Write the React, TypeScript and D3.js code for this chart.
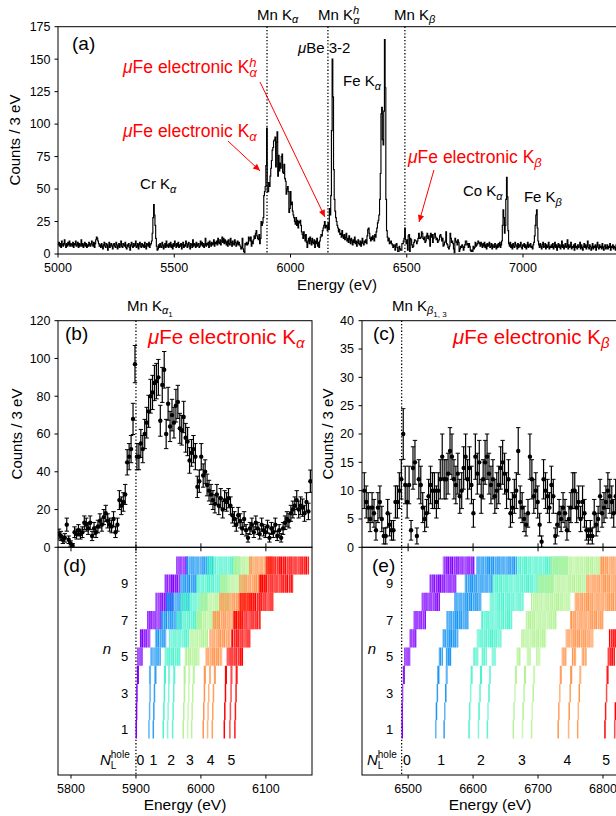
import React from "react";
import * as d3 from "d3";

const FONT = "'Liberation Sans', Arial, Helvetica, sans-serif";
const RED = "#ff0000";

// ---------- spectrum: counts per 3 eV bin, each segment starts at its own energy ----------
const lowStart = 5000;
const lowCounts = [
  7, 9, 6, 8, 5, 10, 7, 6, 8, 11, 7, 5, 8, 6, 9, 7, 10, 6, 8, 7,
  6, 9, 5, 8, 7, 10, 6, 7, 9, 5, 8, 6, 7, 11, 6, 8, 5, 7, 9, 6,
  8, 5, 7, 6, 9, 7, 6, 8, 10, 7, 6, 9, 5, 8, 11, 13, 12, 10, 8, 6,
  7, 5, 8, 6, 4, 7, 9, 6, 5, 8, 7, 3, 6, 9, 5, 7, 8, 6, 4, 7,
  8, 6, 5, 9, 7, 4, 6, 8, 5, 7, 10, 6, 5, 8, 7, 6, 9, 5, 4, 7,
  6, 8, 5, 3, 7, 9, 6, 5, 8, 6, 7, 10, 5, 6, 8, 4, 7, 9, 6, 5,
  8, 6, 7, 5, 9, 6, 4, 8, 7, 6, 9, 5, 7, 8, 10, 16, 28, 38, 30, 22,
  12, 6, 3, 4, 7, 5, 8, 6, 5, 9, 7, 4, 6, 8, 5, 10, 6, 7, 5, 8,
  6, 9, 5, 7, 4, 8, 6, 10, 7, 5, 8, 6, 9, 5, 7, 6, 8, 4, 7, 9,
  5, 7, 6, 10, 8, 5, 7, 9, 6, 4, 8, 7, 5, 11, 6, 8, 7, 5, 9, 6,
  7, 8, 5, 6, 10, 7, 9, 6, 8, 5, 7, 12, 6, 8, 7, 9, 5, 10, 8, 6,
  9, 7, 8, 11, 6, 9, 8, 10, 7, 12, 9, 8, 11, 7, 10, 13, 9, 12, 8, 11,
  9, 7, 10, 6, 11, 8, 7, 12, 9, 6, 10, 8, 7, 11, 9, 6, 8, 10, 7, 9,
];
// muFe electronic K-alpha region, panel (b)
const kaStart = 5780;
const kaCounts = [
  7, 6, 4, 5, 12, 4, 2, 1, 8, 7, 9, 7, 8, 13, 12, 10, 13, 6, 10, 8,
  11, 14, 12, 16, 18, 14, 12, 11, 15, 8, 12, 25, 22, 24, 28, 45, 48, 52, 68, 97,
  48, 48, 55, 52, 60, 66, 72, 80, 82, 87, 88, 90, 67, 86, 94, 60, 76, 64, 70, 66,
  75, 77, 63, 62, 69, 58, 56, 46, 50, 52, 48, 32, 35, 48, 38, 40, 33, 30, 28, 25,
  23, 28, 22, 26, 20, 25, 24, 26, 22, 17, 15, 12, 17, 14, 10, 15, 9, 5, 10, 12,
  8, 13, 10, 7, 12, 9, 8, 11, 5, 10, 8, 12, 6, 9, 5, 10, 13, 15, 14, 18,
  20, 22, 25, 20, 22, 21, 18, 24, 19, 35,
];
// muBe 3-2 and Fe K-alpha
const midStart = 6170;
const midCounts = [
  30, 45, 95, 150, 121, 65, 42, 33, 28, 25, 22, 20, 17, 19, 15, 16, 13, 18, 14, 12,
  15, 11, 13, 16, 10, 12, 9, 14, 11, 8, 12, 10, 7, 11, 9, 13, 8, 10, 6, 9,
  11, 8, 7, 10, 6, 9, 12, 8, 7, 10, 9, 11, 8, 14, 19, 20, 16, 12, 10, 13,
  11, 14, 12, 10, 15, 13, 17, 20, 24, 26, 30, 42, 62, 108, 113, 88, 84, 110, 165, 128,
  42, 18, 13, 10, 12, 8, 9,
];
// muFe electronic K-beta region, panel (c)
const kbStart = 6431;
const kbCounts = [
  10, 8, 7, 5, 7, 6, 3, 7, 8, 5, 2, 2, 6, 4, 3, 3, 8, 8, 10, 12, 20,
  11, 8, 11, 3, 14, 15, 2, 12, 11, 7, 5, 6, 9, 11, 10, 10, 8, 10, 12, 16,
  12, 12, 13, 17, 16, 12, 11, 13, 9, 10, 14, 16, 12, 14, 11, 6, 16, 13, 15, 9,
  12, 15, 16, 13, 11, 12, 9, 10, 11, 14, 15, 13, 10, 12, 6, 7, 9, 10, 17, 8,
  7, 5, 4, 6, 16, 12, 9, 10, 8, 4, 1, 12, 10, 9, 7, 11, 9, 2, 4, 6,
  5, 7, 6, 3, 5, 7, 10, 10, 7, 8, 5, 8, 6, 3, 2, 3, 2, 6, 4, 5,
  9, 6, 7, 8, 10, 9, 8, 6, 9,
];
// Co K-alpha, Fe K-beta and the tail
const highStart = 6821;
const highCounts = [
  7, 5, 8, 6, 9, 5, 7, 4, 8, 6, 7, 9, 5, 6, 8, 4, 7, 6, 5, 8,
  6, 4, 7, 5, 8, 6, 9, 5, 7, 10, 22, 34, 28, 16, 22, 42, 59, 44, 18, 8,
  6, 9, 5, 7, 4, 8, 6, 5, 9, 7, 6, 4, 8, 5, 7, 6, 9, 5, 4, 7,
  6, 8, 5, 7, 4, 6, 9, 5, 7, 6, 8, 5, 6, 4, 7, 9, 14, 22, 30, 34,
  20, 10, 7, 5, 8, 6, 4, 7, 9, 5, 6, 8, 4, 7, 5, 6, 9, 4, 6, 5,
  7, 5, 8, 4, 6, 9, 5, 7, 3, 6, 8, 5, 7, 4, 6, 10, 5, 7, 4, 6,
  8, 5, 6, 11, 4, 7, 5, 6, 9, 4, 6, 5, 7, 3, 8, 5, 6, 4, 7, 5,
  6, 9, 4, 7, 5, 3, 6, 8, 5, 7, 4, 6, 10, 5, 4, 7, 6, 3, 5, 8,
  4, 6, 5, 7, 3, 6, 9, 5, 4, 7, 5, 6, 4, 8, 5, 3, 6, 7, 4, 5,
  7, 4, 6, 5, 8, 3, 6, 5, 7, 4, 6, 5, 3, 7, 5, 6, 4, 8, 5, 6,
];

// reference lines (eV)
const mnKa = 5899;
const mnKah = 6161;
const mnKb = 6492;
const mnKa1 = 5900;
const mnKb13 = 6490;

// ticks
const aXTicks = [5000, 5500, 6000, 6500, 7000];
const aYTicks = [0, 25, 50, 75, 100, 125, 150, 175];
const bYTicks = [0, 20, 40, 60, 80, 100, 120];
const cYTicks = [0, 5, 10, 15, 20, 25, 30, 35, 40];
const dXTicks = [5800, 5900, 6000, 6100];
const eXTicks = [6500, 6600, 6700, 6800];
const nTicks = [1, 3, 5, 7, 9];
const holeNums = [0, 1, 2, 3, 4, 5];
const dHoleE = [5907, 5927, 5954, 5983, 6015, 6047];
const eHoleE = [6498, 6551, 6612, 6675, 6745, 6805];

// transition energies: [n, N_L hole, eV] single lines for low n
const kaLines: [number, number, number][] = [
  [1, 0, 5900.5], [1, 1, 5920], [1, 1, 5926.7], [1, 2, 5942], [1, 2, 5948.7], [1, 2, 5956.4],
  [1, 3, 5972.8], [1, 3, 5979.5], [1, 3, 5985.7], [1, 4, 6003.6], [1, 4, 6010.3], [1, 4, 6017.5],
  [1, 5, 6036], [1, 5, 6044.6], [1, 5, 6052.3],
  [2, 0, 5901], [2, 1, 5921], [2, 1, 5927.5], [2, 2, 5943], [2, 2, 5949.5], [2, 2, 5957.2],
  [2, 3, 5973.6], [2, 3, 5980.3], [2, 3, 5986.5], [2, 4, 6004.4], [2, 4, 6011.1], [2, 4, 6018.3],
  [2, 5, 6036.8], [2, 5, 6045.4], [2, 5, 6053.1],
  [3, 0, 5901.5], [3, 1, 5921.8], [3, 1, 5928.5], [3, 2, 5943.8], [3, 2, 5950.5], [3, 2, 5958.2],
  [3, 3, 5974.6], [3, 3, 5981.3], [3, 3, 5987.5], [3, 4, 6005.4], [3, 4, 6012.1], [3, 4, 6019.3],
  [3, 5, 6037.8], [3, 5, 6046.4], [3, 5, 6054.1],
  [4, 0, 5903], [4, 1, 5921.6], [4, 1, 5930], [4, 2, 5944.6], [4, 2, 5951], [4, 2, 5959],
  [4, 3, 5975], [4, 3, 5982], [4, 3, 5989], [4, 4, 6006], [4, 4, 6014], [4, 4, 6021.5],
  [4, 5, 6038.5], [4, 5, 6047], [4, 5, 6055],
];
// dense bands for high n: [n, N_L hole, eV from, eV to]
const kaBands: [number, number, number, number][] = [
  [5, 0, 5903, 5910], [5, 1, 5923, 5938], [5, 2, 5945, 5968], [5, 3, 5976, 5998], [5, 4, 6008, 6032], [5, 5, 6040, 6065],
  [6, 0, 5907, 5922], [6, 1, 5930, 5947], [6, 2, 5952, 5982], [6, 3, 5983, 6011], [6, 4, 6014, 6045], [6, 5, 6047, 6076],
  [7, 0, 5918, 5939], [7, 1, 5939, 5970], [7, 2, 5963, 6001], [7, 3, 5993, 6027], [7, 4, 6019, 6065], [7, 5, 6050, 6092],
  [8, 0, 5931, 5957], [8, 1, 5947, 5983], [8, 2, 5970, 6011], [8, 3, 5998, 6045], [8, 4, 6029, 6081], [8, 5, 6060, 6112],
  [9, 0, 5945, 5968], [9, 1, 5968, 5994], [9, 2, 5994, 6040], [9, 3, 6030, 6070], [9, 4, 6060, 6101], [9, 5, 6090, 6142],
  [10, 0, 5963, 5980], [10, 1, 5978, 6018], [10, 2, 6010, 6060], [10, 3, 6050, 6080], [10, 4, 6075, 6111], [10, 5, 6100, 6166],
];
const kbLines: [number, number, number][] = [
  [1, 0, 6491], [1, 1, 6542.6], [1, 1, 6555.4], [1, 2, 6593.8], [1, 2, 6608.2], [1, 2, 6622],
  [1, 3, 6662], [1, 3, 6676], [1, 3, 6690], [1, 4, 6731], [1, 4, 6747], [1, 4, 6761], [1, 5, 6803], [1, 5, 6818],
  [2, 0, 6491], [2, 1, 6543.6], [2, 1, 6556.4], [2, 2, 6594.8], [2, 2, 6609.2], [2, 2, 6623],
  [2, 3, 6663], [2, 3, 6677], [2, 3, 6691], [2, 4, 6732], [2, 4, 6748], [2, 4, 6762], [2, 5, 6804], [2, 5, 6819],
  [3, 0, 6491.5], [3, 1, 6545], [3, 1, 6558], [3, 2, 6596.3], [3, 2, 6610.7], [3, 2, 6624.5],
  [3, 3, 6664.5], [3, 3, 6678.5], [3, 3, 6692.5], [3, 4, 6733.5], [3, 4, 6749.5], [3, 4, 6763.5], [3, 5, 6805.5],
  [4, 0, 6493.5], [4, 1, 6546.6], [4, 1, 6559.4], [4, 2, 6597.8], [4, 2, 6612.2], [4, 2, 6626],
  [4, 3, 6666], [4, 3, 6680], [4, 3, 6694], [4, 4, 6735], [4, 4, 6751], [4, 4, 6765], [4, 5, 6807],
];
const kbBands: [number, number, number, number][] = [
  [5, 0, 6495, 6503], [5, 1, 6548, 6554], [5, 1, 6559, 6566], [5, 2, 6601, 6608], [5, 2, 6614, 6621], [5, 2, 6629, 6634],
  [5, 3, 6668, 6674], [5, 3, 6683, 6689], [5, 3, 6698, 6703], [5, 4, 6737, 6744], [5, 4, 6753, 6759], [5, 4, 6768, 6775],
  [5, 5, 6808, 6818],
  [6, 0, 6503, 6514], [6, 1, 6554, 6577], [6, 2, 6606, 6644], [6, 3, 6675, 6713], [6, 4, 6743, 6785], [6, 5, 6810, 6830],
  [7, 0, 6509, 6528], [7, 1, 6560, 6593], [7, 2, 6613, 6660], [7, 3, 6682, 6729], [7, 4, 6750, 6801], [7, 5, 6822, 6840],
  [8, 0, 6521, 6549], [8, 1, 6572, 6613], [8, 2, 6626, 6678], [8, 3, 6690, 6750], [8, 4, 6757, 6830],
  [9, 0, 6534, 6575], [9, 1, 6588, 6631], [9, 2, 6631, 6723], [9, 3, 6700, 6775], [9, 4, 6775, 6830],
  [10, 0, 6554, 6603], [10, 1, 6606, 6668], [10, 2, 6668, 6745], [10, 3, 6720, 6796], [10, 4, 6796, 6830],
];

// ---------- scales ----------
const xA = d3.scaleLinear().domain([5000, 7400]).range([58, 616]);
const yA = d3.scaleLinear().domain([0, 175]).range([254, 26.7]);
const xB = d3.scaleLinear().domain([5780, 6171]).range([58, 312]);
const yB = d3.scaleLinear().domain([0, 120]).range([547.3, 320.7]);
const xC = d3.scaleLinear().domain([6429, 6820]).range([362, 616]);
const yC = d3.scaleLinear().domain([0, 40]).range([547.3, 320.7]);
const yD = d3.scaleLinear().domain([-1.5, 11]).range([775, 547.3]);

// matplotlib "rainbow" colormap
function rainbow(t: number) {
  const r = Math.min(1, Math.abs(2 * t - 0.5));
  const g = Math.sin(Math.PI * t);
  const b = Math.cos((Math.PI * t) / 2);
  return d3.rgb(r * 255, g * 255, b * 255).formatHex();
}

const segments: [number, number[]][] = [
  [lowStart, lowCounts],
  [kaStart, kaCounts],
  [midStart, midCounts],
  [kbStart, kbCounts],
  [highStart, highCounts],
];
const bins = segments.flatMap(([s, vals]) => vals.map((v, i) => ({ e: s + 3 * i, v })));

type Part = [string, { it?: boolean; fs?: number; dx?: number; dy?: number }?];
const T = ({ x, y, fs, parts, fill = "#000", anchor = "start" }: { x: number; y: number; fs: number; parts: Part[]; fill?: string; anchor?: string }) => (
  <text x={x} y={y} fontSize={fs} fill={fill} textAnchor={anchor}>
    {parts.map(([s, o = {}], i) => (
      <tspan key={i} fontStyle={o.it ? "italic" : undefined} fontSize={o.fs} dx={o.dx} dy={o.dy}>
        {s}
      </tspan>
    ))}
  </text>
);

const LINE_ALPHA = [1, 0.7, 0.9];
const STRIPE_ALPHA = [1, 0.5, 0.9, 0.7, 1, 0.4, 0.85, 0.6, 0.95, 0.75];

function levelMarks(lines: [number, number, number][], bands: [number, number, number, number][], x: d3.ScaleLinear<number, number>, key: string) {
  const out: React.ReactElement[] = [];
  lines.forEach(([n, N, e], i) => {
    out.push(
      <line key={`${key}l${i}`} x1={x(e)} x2={x(e)} y1={yD(n + 0.5)} y2={yD(n - 0.5)}
        stroke={rainbow(N / 5)} strokeWidth={n === 4 ? 2.1 : 1.5} strokeOpacity={LINE_ALPHA[i % 3]} />
    );
  });
  bands.forEach(([n, N, e0, e1], bi) => {
    const c = rainbow(N / 5);
    let k = 0;
    for (let e = e0; e <= e1 + 0.01; e += 1.6, k++) {
      out.push(
        <line key={`${key}b${bi}-${k}`} x1={x(e)} x2={x(e)} y1={yD(n + 0.5)} y2={yD(n - 0.5)}
          stroke={c} strokeWidth={1.15} strokeOpacity={STRIPE_ALPHA[(k + bi * 3) % STRIPE_ALPHA.length]} />
      );
    }
  });
  return out;
}

function errorPoints(start: number, vals: number[], x: d3.ScaleLinear<number, number>, y: d3.ScaleLinear<number, number>) {
  return vals.map((v, i) => {
    const cx = x(start + 3 * i + 1.5);
    const err = Math.sqrt(v);
    const y0 = y(v - err);
    const y1 = y(v + err);
    return (
      <g key={i}>
        <line x1={cx} x2={cx} y1={y0} y2={y1} stroke="#000" strokeWidth={1.2} />
        <line x1={cx - 2.2} x2={cx + 2.2} y1={y0} y2={y0} stroke="#000" strokeWidth={1} />
        <line x1={cx - 2.2} x2={cx + 2.2} y1={y1} y2={y1} stroke="#000" strokeWidth={1} />
        <circle cx={cx} cy={y(v)} r={2.2} fill="#000" />
      </g>
    );
  });
}

const dotted = { stroke: "#000", strokeWidth: 1.3, strokeDasharray: "1.3,2" };

export default function App() {
  const pts: [number, number][] = bins.map((b) => [b.e, b.v]);
  const last = bins[bins.length - 1];
  pts.push([last.e + 3, last.v]);
  const step = d3
    .line<[number, number]>()
    .x((d) => xA(d[0]))
    .y((d) => yA(d[1]))
    .curve(d3.curveStepAfter)(pts) as string;

  const tick = 3.5;
  const tl = 12.5;

  return (
    <div style={{ position: "absolute", left: 0, top: 0 }}>
      <svg width={616} height={816} fontFamily={FONT} style={{ display: "block", background: "#fff" }}>
        <defs>
          <clipPath id="clipA"><rect x={58} y={26.7} width={560} height={227.3} /></clipPath>
          <clipPath id="clipB"><rect x={58} y={320.7} width={254} height={226.6} /></clipPath>
          <clipPath id="clipC"><rect x={362} y={320.7} width={260} height={226.6} /></clipPath>
          <clipPath id="clipD"><rect x={58} y={547.3} width={254} height={227.7} /></clipPath>
          <clipPath id="clipE"><rect x={362} y={547.3} width={260} height={227.7} /></clipPath>
          <marker id="arr" viewBox="0 0 10 10" refX={10} refY={5} markerWidth={8} markerHeight={7}
            markerUnits="userSpaceOnUse" orient="auto">
            <path d="M0,0.5 L10,5 L0,9.5 z" fill={RED} />
          </marker>
        </defs>

        {/* ================= panel (a) ================= */}
        {[mnKa, mnKah, mnKb].map((e) => (
          <line key={e} x1={xA(e)} x2={xA(e)} y1={yA(175)} y2={yA(0)} {...dotted} />
        ))}
        <path d={step} fill="none" stroke="#000" strokeWidth={1.15} clipPath="url(#clipA)" />
        <rect x={58} y={26.7} width={580} height={227.3} fill="none" stroke="#000" strokeWidth={1} />
        {aXTicks.map((t) => (
          <g key={t}>
            <line x1={xA(t)} x2={xA(t)} y1={254} y2={254 + tick} stroke="#000" />
            <text x={xA(t)} y={272} fontSize={tl} textAnchor="middle">{t}</text>
          </g>
        ))}
        {aYTicks.map((t) => (
          <g key={t}>
            <line x1={58 - tick} x2={58} y1={yA(t)} y2={yA(t)} stroke="#000" />
            <text x={50.5} y={yA(t)} dy="0.35em" fontSize={tl} textAnchor="end">{t}</text>
          </g>
        ))}
        <text x={337} y={290} fontSize={15} textAnchor="middle">Energy (eV)</text>
        <text transform="translate(20,140) rotate(-90)" fontSize={15} textAnchor="middle">Counts / 3 eV</text>
        <text x={72} y={50} fontSize={19}>(a)</text>

        <T x={257} y={20} fs={15} parts={[["Mn K"], ["α", { it: true, fs: 11, dy: 3 }]]} />
        <T x={318} y={20} fs={15} parts={[["Mn K"], ["h", { it: true, fs: 11, dy: -6 }], ["α", { it: true, fs: 11, dx: -6, dy: 9.5 }]]} />
        <T x={394} y={20} fs={15} parts={[["Mn K"], ["β", { it: true, fs: 11, dy: 3 }]]} />

        <T x={xA(5353)} y={189} fs={15} parts={[["Cr K"], ["α", { it: true, fs: 11, dy: 3.5 }]]} />
        <T x={xA(6032)} y={53} fs={15} parts={[["μ", { it: true }], ["Be 3-2"]]} />
        <T x={xA(6226)} y={86} fs={15} parts={[["Fe K"], ["α", { it: true, fs: 11, dy: 3.5 }]]} />
        <T x={xA(6742)} y={196} fs={15} parts={[["Co K"], ["α", { it: true, fs: 11, dy: 3.5 }]]} />
        <T x={xA(7004)} y={202} fs={15} parts={[["Fe K"], ["β", { it: true, fs: 11, dy: 3.5 }]]} />

        <T x={123} y={73} fs={17.5} fill={RED}
          parts={[["μ", { it: true }], ["Fe electronic K"], ["h", { it: true, fs: 13, dy: -6.5 }], ["α", { it: true, fs: 13, dx: -7, dy: 10.5 }]]} />
        <T x={123} y={137} fs={17.5} fill={RED}
          parts={[["μ", { it: true }], ["Fe electronic K"], ["α", { it: true, fs: 13, dy: 3.5 }]]} />
        <T x={408} y={163} fs={17.5} fill={RED}
          parts={[["μ", { it: true }], ["Fe electronic K"], ["β", { it: true, fs: 13, dy: 3.5 }]]} />

        <line x1={xA(5731)} y1={yA(87)} x2={xA(5869)} y2={yA(64)} stroke={RED} strokeWidth={1} markerEnd="url(#arr)" />
        <line x1={xA(5869)} y1={yA(132.4)} x2={xA(6148)} y2={yA(28.5)} stroke={RED} strokeWidth={1} markerEnd="url(#arr)" />
        <line x1={xA(6617)} y1={yA(64.7)} x2={xA(6553)} y2={yA(24.6)} stroke={RED} strokeWidth={1} markerEnd="url(#arr)" />

        {/* ================= panel (b) + (d) ================= */}
        <line x1={xB(mnKa1)} x2={xB(mnKa1)} y1={320.7} y2={775} {...dotted} />
        <g clipPath="url(#clipB)">{errorPoints(kaStart, kaCounts, xB, yB)}</g>
        <g clipPath="url(#clipD)">{levelMarks(kaLines, kaBands, xB, "d")}</g>
        <rect x={58} y={320.7} width={254} height={226.6} fill="none" stroke="#000" strokeWidth={1} />
        <rect x={58} y={547.3} width={254} height={227.7} fill="none" stroke="#000" strokeWidth={1} />
        {bYTicks.map((t) => (
          <g key={t}>
            <line x1={58 - tick} x2={58} y1={yB(t)} y2={yB(t)} stroke="#000" />
            <text x={50.5} y={yB(t)} dy="0.35em" fontSize={tl} textAnchor="end">{t}</text>
          </g>
        ))}
        {dXTicks.map((t) => (
          <g key={t}>
            <line x1={xB(t)} x2={xB(t)} y1={547.3 - 4} y2={547.3 + 4} stroke="#000" />
            <line x1={xB(t)} x2={xB(t)} y1={775} y2={775 + tick} stroke="#000" />
            <text x={xB(t)} y={793} fontSize={tl} textAnchor="middle">{t}</text>
          </g>
        ))}
        <text transform="translate(22,434) rotate(-90)" fontSize={15} textAnchor="middle">Counts / 3 eV</text>
        <text x={65} y={340} fontSize={19}>(b)</text>
        <text x={63} y={572} fontSize={19}>(d)</text>
        <T x={127} y={311} fs={15} parts={[["Mn K"], ["α", { it: true, fs: 11, dy: 3 }], ["1", { fs: 8, dy: 2.5 }]]} />
        <T x={148} y={344} fs={20.5} fill={RED} parts={[["μ", { it: true }], ["Fe electronic K"], ["α", { it: true, fs: 15, dy: 4 }]]} />
        {nTicks.map((n) => (
          <text key={n} x={xB(5888)} y={yD(n)} dy="0.35em" fontSize={13} textAnchor="end">{n}</text>
        ))}
        <text x={107} y={654} fontSize={15} fontStyle="italic" textAnchor="middle">n</text>
        <T x={100} y={765} fs={15} parts={[["N", { it: true }], ["L", { fs: 10, dy: 4 }], ["hole", { fs: 10, dx: -5.6, dy: -11 }]]} />
        {holeNums.map((h, i) => (
          <text key={h} x={xB(dHoleE[i])} y={765} fontSize={14} textAnchor="middle">{h}</text>
        ))}
        <text x={185} y={810} fontSize={15.5} textAnchor="middle">Energy (eV)</text>

        {/* ================= panel (c) + (e) ================= */}
        <line x1={xC(mnKb13)} x2={xC(mnKb13)} y1={320.7} y2={775} {...dotted} />
        <g clipPath="url(#clipC)">{errorPoints(kbStart, kbCounts, xC, yC)}</g>
        <g clipPath="url(#clipE)">{levelMarks(kbLines, kbBands, xC, "e")}</g>
        <rect x={362} y={320.7} width={270} height={226.6} fill="none" stroke="#000" strokeWidth={1} />
        <rect x={362} y={547.3} width={270} height={227.7} fill="none" stroke="#000" strokeWidth={1} />
        {cYTicks.map((t) => (
          <g key={t}>
            <line x1={362 - tick} x2={362} y1={yC(t)} y2={yC(t)} stroke="#000" />
            <text x={354} y={yC(t)} dy="0.35em" fontSize={tl} textAnchor="end">{t}</text>
          </g>
        ))}
        {eXTicks.map((t) => (
          <g key={t}>
            <line x1={xC(t)} x2={xC(t)} y1={547.3 - 4} y2={547.3 + 4} stroke="#000" />
            <line x1={xC(t)} x2={xC(t)} y1={775} y2={775 + tick} stroke="#000" />
            <text x={xC(t)} y={793} fontSize={tl} textAnchor="middle">{t}</text>
          </g>
        ))}
        <text transform="translate(333,434) rotate(-90)" fontSize={15} textAnchor="middle">Counts / 3 eV</text>
        <text x={373} y={340} fontSize={19}>(c)</text>
        <text x={372} y={572} fontSize={19}>(e)</text>
        <T x={392} y={311} fs={15} parts={[["Mn K"], ["β", { it: true, fs: 11, dy: 3 }], ["1, 3", { fs: 8, dy: 2.5 }]]} />
        <T x={453} y={344} fs={20.5} fill={RED} parts={[["μ", { it: true }], ["Fe electronic K"], ["β", { it: true, fs: 15, dy: 4 }]]} />
        {nTicks.map((n) => (
          <text key={n} x={xC(6477)} y={yD(n)} dy="0.35em" fontSize={13} textAnchor="end">{n}</text>
        ))}
        <text x={372} y={654} fontSize={15} fontStyle="italic" textAnchor="middle">n</text>
        <T x={367} y={765} fs={15} parts={[["N", { it: true }], ["L", { fs: 10, dy: 4 }], ["hole", { fs: 10, dx: -5.6, dy: -11 }]]} />
        {holeNums.map((h, i) => (
          <text key={h} x={xC(eHoleE[i])} y={765} fontSize={14} textAnchor="middle">{h}</text>
        ))}
        <text x={490} y={810} fontSize={15.5} textAnchor="middle">Energy (eV)</text>
      </svg>
    </div>
  );
}
